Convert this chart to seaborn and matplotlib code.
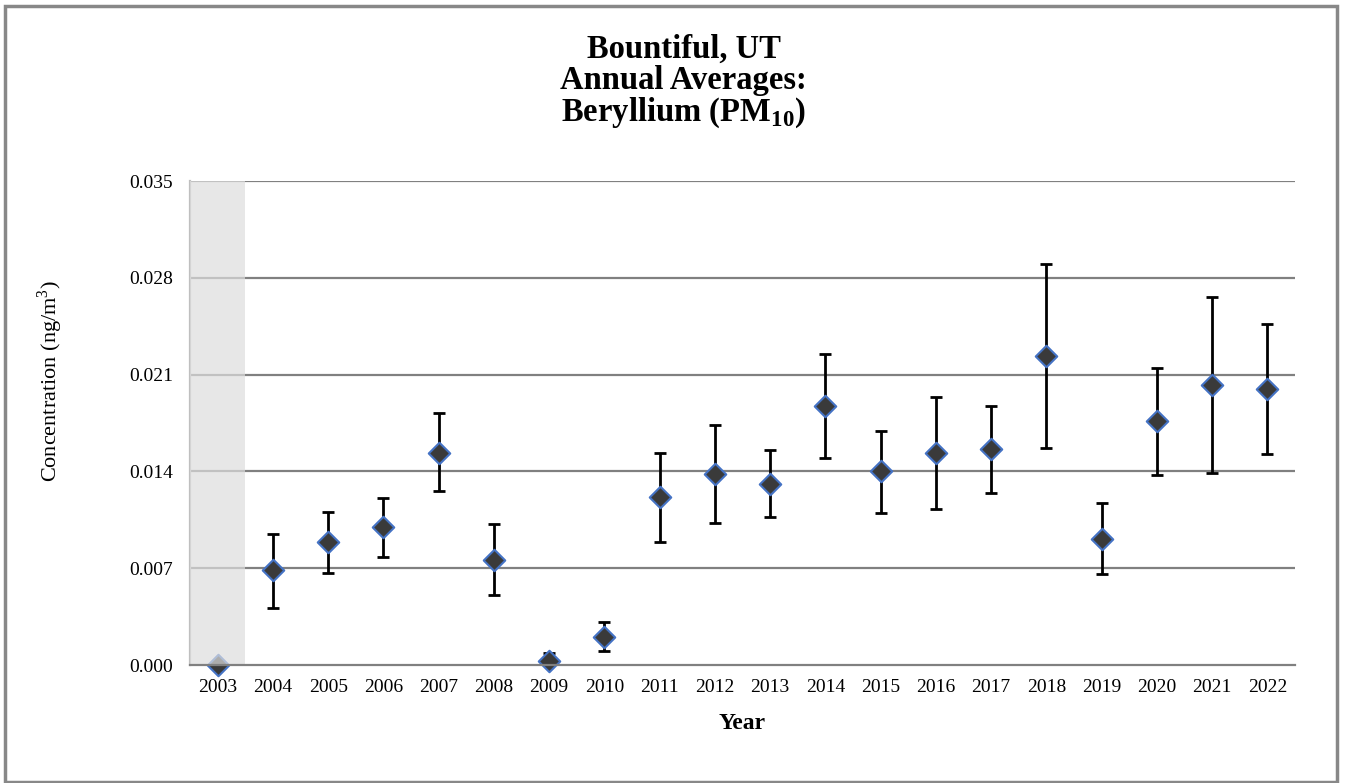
import matplotlib
matplotlib.use("Agg")
import matplotlib.pyplot as plt
import matplotlib.patches as mpatches
import seaborn as sns
import pandas as pd
import numpy as np

years = [str(y) for y in range(2003, 2023)]
means = [0.0, 0.00687, 0.00889, 0.00998, 0.01533, 0.00759, 0.00029, 0.00202,
         0.01215, 0.01381, 0.01309, 0.01873, 0.01403, 0.01533, 0.01562,
         0.02235, 0.00911, 0.01764, 0.02025, 0.01996]
upper = [0.0, 0.00947, 0.01106, 0.01208, 0.01822, 0.0102, 0.00087, 0.00311,
         0.01533, 0.01736, 0.01555, 0.02249, 0.01692, 0.01938, 0.01873,
         0.0290, 0.01172, 0.02148, 0.02661, 0.02466]
lower = [0.0, 0.00412, 0.00665, 0.00781, 0.01258, 0.00506, 0.0, 0.00101,
         0.00889, 0.01027, 0.0107, 0.01497, 0.01099, 0.01128, 0.01244,
         0.01569, 0.00658, 0.01374, 0.01388, 0.01526]
yticks = [0.000, 0.007, 0.014, 0.021, 0.028, 0.035]

df = pd.DataFrame({"Year": years, "Mean": means, "Upper": upper, "Lower": lower})

sns.set_style("white")
plt.rcParams["font.family"] = ["Liberation Serif", "DejaVu Serif"]
plt.rcParams["mathtext.fontset"] = "custom"
plt.rcParams["mathtext.rm"] = "Liberation Serif"
plt.rcParams["mathtext.bf"] = "Liberation Serif:bold"
plt.rcParams["text.color"] = "black"
plt.rcParams["axes.labelcolor"] = "black"
plt.rcParams["xtick.labelcolor"] = "black"
plt.rcParams["ytick.labelcolor"] = "black"

fig = plt.figure(figsize=(13.46, 7.83), dpi=100)
ax = fig.add_axes([190 / 1346, 1 - 665 / 783, (1295 - 190) / 1346, (665 - 181) / 783])

# gridlines
for t in yticks[1:]:
    ax.axhline(t, color="#808080", lw=1.6, zorder=1)

# error bars (2003 has no error)
pos = np.arange(len(years))
yerr = np.vstack([df["Mean"] - df["Lower"], df["Upper"] - df["Mean"]])
mask = pos > 0
ax.errorbar(pos[mask], df["Mean"][mask], yerr=yerr[:, mask], fmt="none",
            ecolor="black", elinewidth=2, capsize=4.5, capthick=2, zorder=2)

sns.scatterplot(data=df, x="Year", y="Mean", marker="D", s=120,
                color="#3a3a3a", edgecolor="#4472c4", linewidth=1.5,
                ax=ax, zorder=3, legend=False, clip_on=False)

# shaded 2003 column (semi-transparent overlay)
ax.axvspan(-0.5, 0.5, color="#dedede", alpha=0.7, lw=0, zorder=4)

ax.set_xlim(-0.5, len(years) - 0.5)
ax.set_ylim(0, 0.035)
ax.set_yticks(yticks)
ax.set_yticklabels([f"{t:.3f}" for t in yticks], fontsize=14)
ax.set_xticks(pos)
ax.set_xticklabels(years, fontsize=14)
ax.set_xticks(np.arange(-0.5, len(years), 1.0), minor=True)
ax.tick_params(axis="x", which="major", length=0, pad=10)
ax.tick_params(axis="x", which="minor", length=6, width=1.5, color="#808080", direction="out")
ax.tick_params(axis="y", which="major", length=4, width=1.5, color="#808080", direction="out", pad=8)

for side in ["top", "right"]:
    ax.spines[side].set_visible(False)
ax.spines["left"].set_color("#bfbfbf")
ax.spines["left"].set_linewidth(1.6)
ax.spines["bottom"].set_color("#808080")
ax.spines["bottom"].set_linewidth(1.6)
ax.spines["bottom"].set_zorder(5)

ax.set_xlabel("Year", fontsize=17, fontweight="bold", labelpad=12)
ax.set_ylabel("Concentration (ng/m$^3$)", fontsize=16)
ax.yaxis.set_label_coords((50 - 190) / 1105, (665 - 381) / 484, transform=ax.transAxes)
ax.yaxis.label.set_va("center")

fig.text(0.508, 0.957, "Bountiful, UT\nAnnual Averages:\nBeryllium (PM$_{\\mathbf{10}}$)",
         ha="center", va="top", fontsize=23.5, fontweight="bold", linespacing=1.0)

fig.patches.append(mpatches.Rectangle((5 / 1346, 1 / 783), 1332 / 1346, 776 / 783,
                                      transform=fig.transFigure, fill=False,
                                      edgecolor="#888888", lw=2.5))

fig.savefig("out.png", dpi=100)
